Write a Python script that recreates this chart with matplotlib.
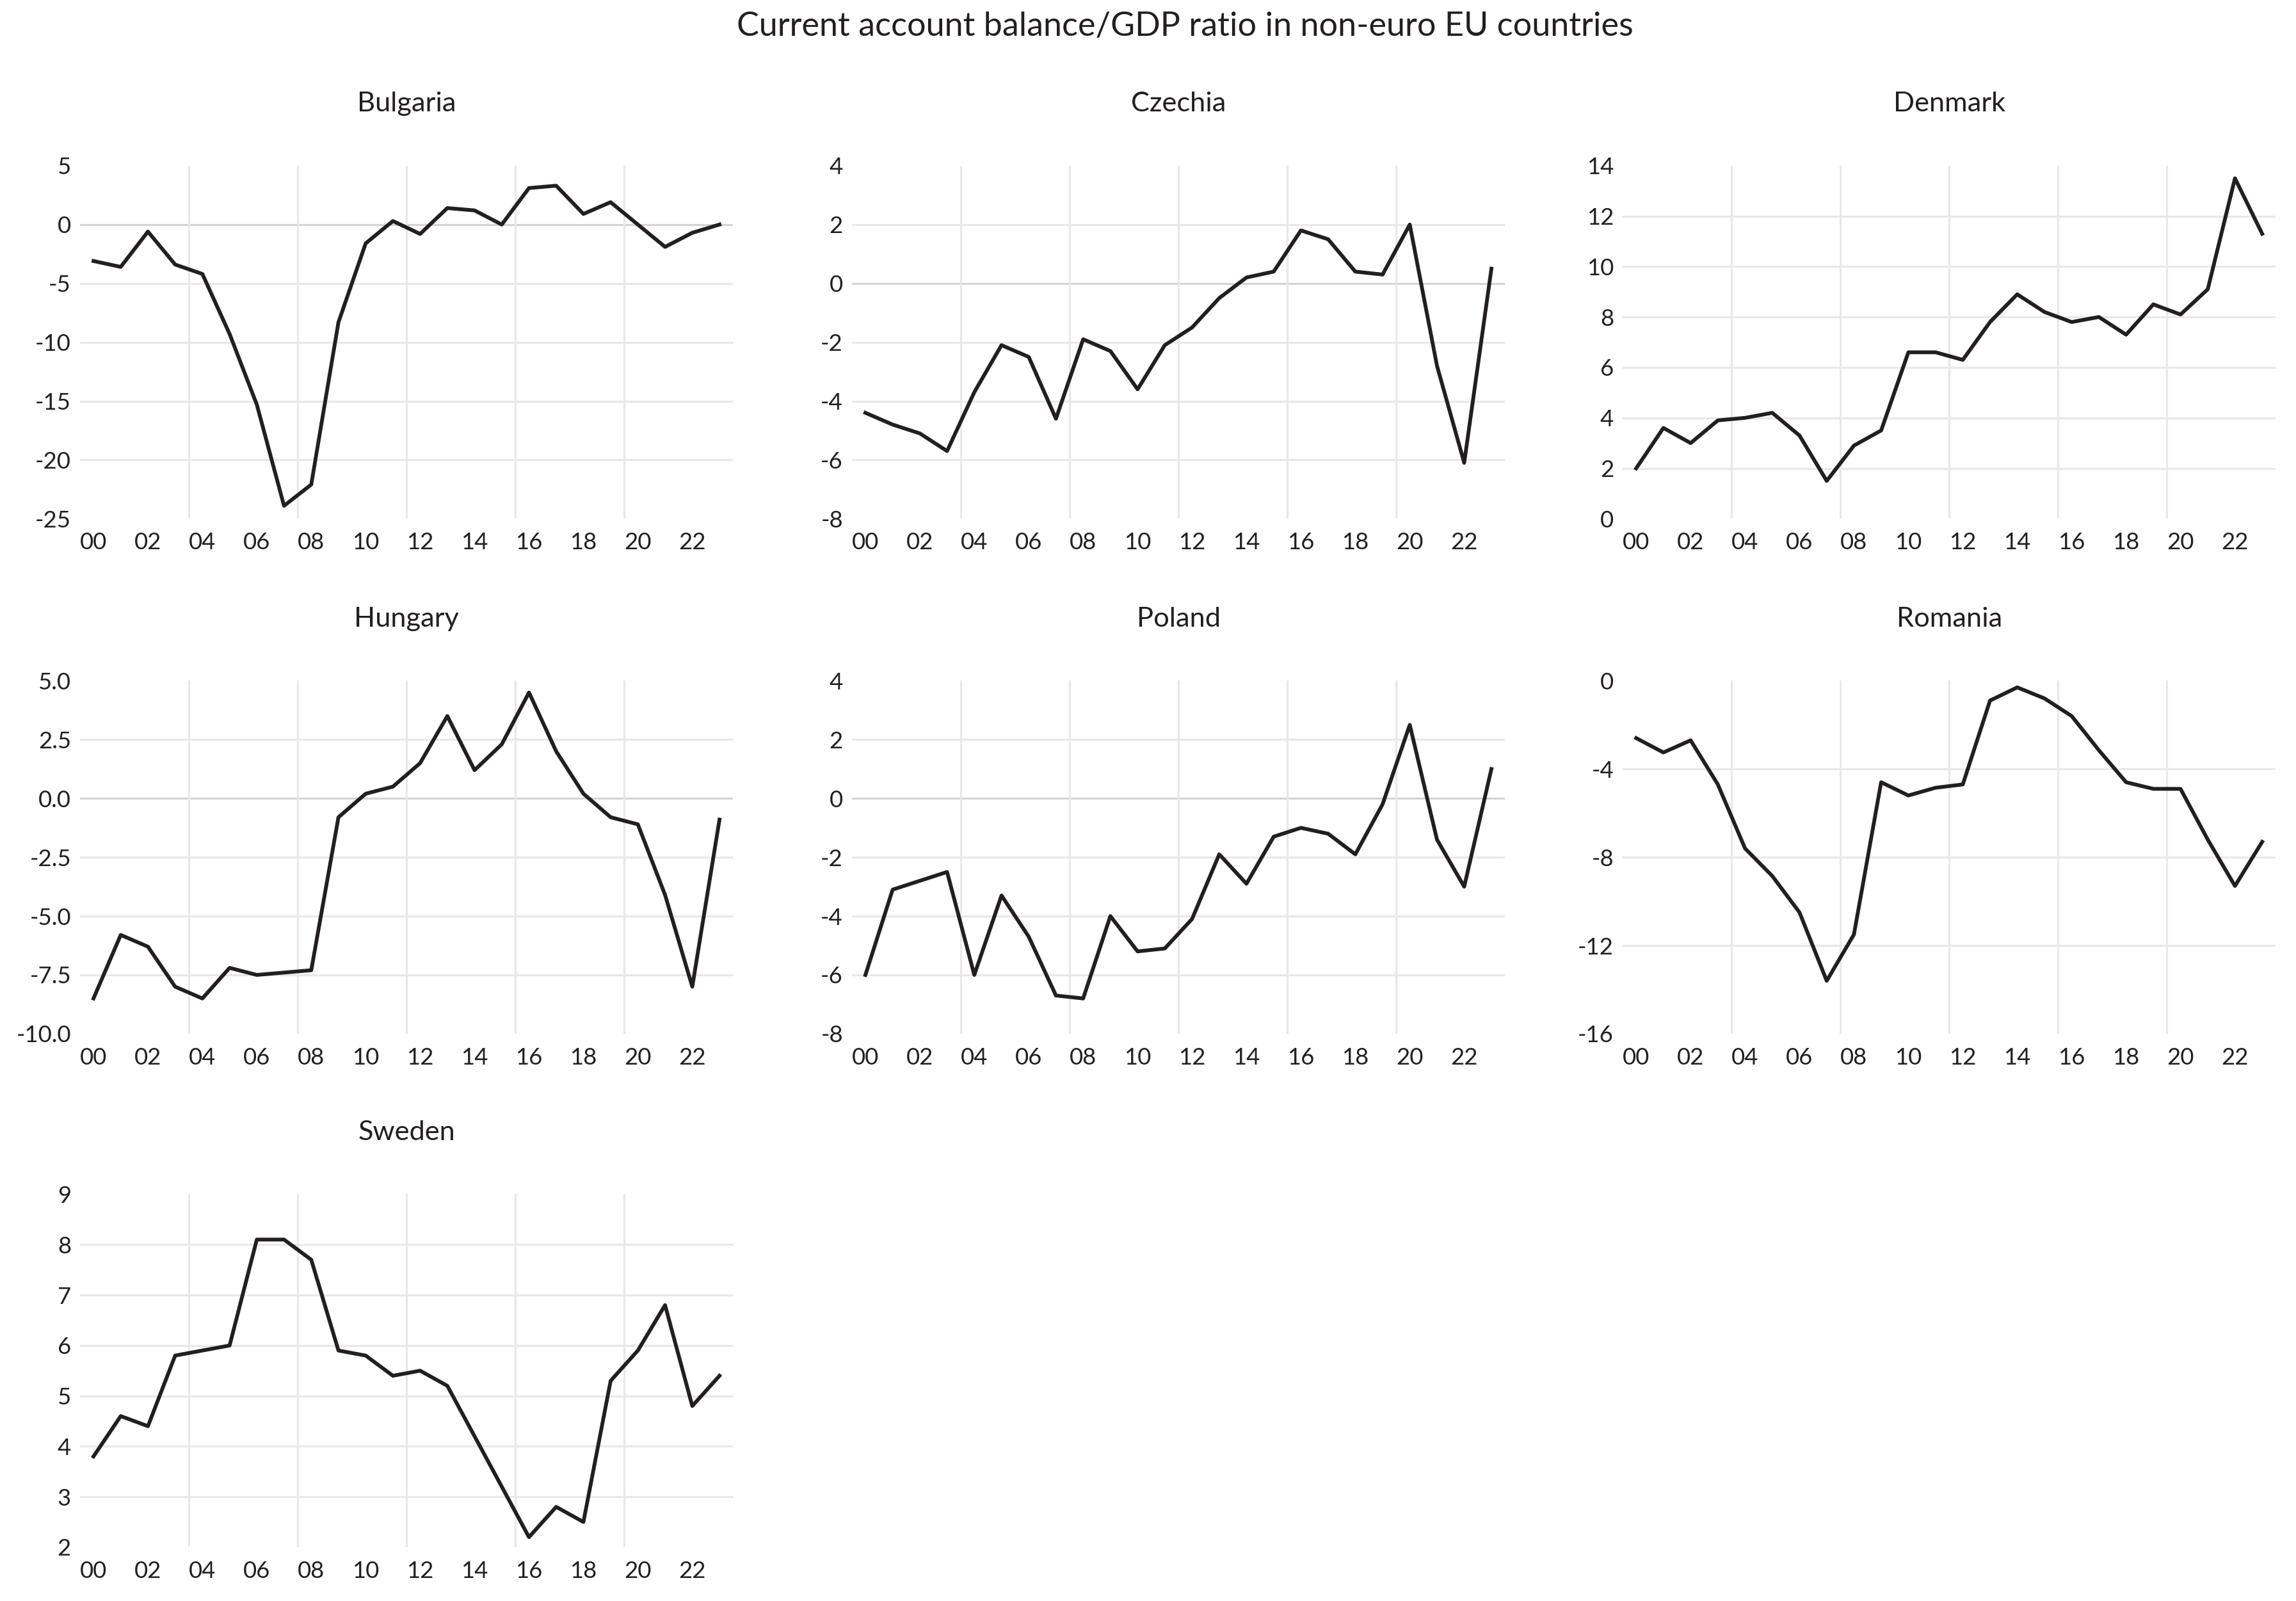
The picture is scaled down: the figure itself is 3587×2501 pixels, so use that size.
import matplotlib
matplotlib.use("Agg")
import matplotlib.pyplot as plt
import numpy as np

plt.rcParams['font.family'] = ['Lato', 'DejaVu Sans']

years = ["00", "01", "02", "03", "04", "05", "06", "07", "08", "09", "10", "11",
         "12", "13", "14", "15", "16", "17", "18", "19", "20", "21", "22", "23"]

bulgaria = [-3.1, -3.6, -0.6, -3.4, -4.2, -9.3, -15.3, -23.9, -22.1, -8.3, -1.6, 0.3,
            -0.8, 1.4, 1.2, 0.0, 3.1, 3.3, 0.9, 1.9, 0.0, -1.9, -0.7, 0.0]
czechia = [-4.4, -4.8, -5.1, -5.7, -3.7, -2.1, -2.5, -4.6, -1.9, -2.3, -3.6, -2.1,
           -1.5, -0.5, 0.2, 0.4, 1.8, 1.5, 0.4, 0.3, 2.0, -2.8, -6.1, 0.5]
denmark = [2.0, 3.6, 3.0, 3.9, 4.0, 4.2, 3.3, 1.5, 2.9, 3.5, 6.6, 6.6,
           6.3, 7.8, 8.9, 8.2, 7.8, 8.0, 7.3, 8.5, 8.1, 9.1, 13.5, 11.3]
hungary = [-8.5, -5.8, -6.3, -8.0, -8.5, -7.2, -7.5, -7.4, -7.3, -0.8, 0.2, 0.5,
           1.5, 3.5, 1.2, 2.3, 4.5, 2.0, 0.2, -0.8, -1.1, -4.1, -8.0, -0.9]
poland = [-6.0, -3.1, -2.8, -2.5, -6.0, -3.3, -4.7, -6.7, -6.8, -4.0, -5.2, -5.1,
          -4.1, -1.9, -2.9, -1.3, -1.0, -1.2, -1.9, -0.2, 2.5, -1.4, -3.0, 1.0]
romania = [-2.6, -3.25, -2.7, -4.7, -7.6, -8.85, -10.5, -13.6, -11.5, -4.6, -5.2, -4.85,
           -4.7, -0.9, -0.3, -0.8, -1.6, -3.15, -4.6, -4.9, -4.9, -7.2, -9.3, -7.3]
sweden = [3.8, 4.6, 4.4, 5.8, 5.9, 6.0, 8.1, 8.1, 7.7, 5.9, 5.8, 5.4,
          5.5, 5.2, 4.2, 3.2, 2.2, 2.8, 2.5, 5.3, 5.9, 6.8, 4.8, 5.4]

countries = ["Bulgaria", "Czechia", "Denmark", "Hungary", "Poland", "Romania", "Sweden"]
series = [bulgaria, czechia, denmark, hungary, poland, romania, sweden]
# y range and tick step per panel
y_ranges = [(-25, 5, 5), (-8, 4, 2), (0, 14, 2), (-10, 5, 2.5), (-8, 4, 2), (-16, 0, 4), (2, 9, 1)]
y_fmt = ["{:.0f}", "{:.0f}", "{:.0f}", "{:.1f}", "{:.0f}", "{:.0f}", "{:.0f}"]

fig = plt.figure(figsize=(3587 / 250, 2501 / 250), dpi=250)

lefts = [0.0348, 0.371, 0.7067]
width = 0.2845
bottoms = [0.676, 0.3543, 0.0336]
height = 0.2205

line_col = "#231f20"
grid_col = "#e8e8e8"

for i, (name, vals) in enumerate(zip(countries, series)):
    row, col = divmod(i, 3)
    ax = fig.add_axes([lefts[col], bottoms[row], width, height])
    x = np.arange(len(years))
    ymin, ymax, step = y_ranges[i]
    ticks = np.arange(ymin, ymax + step / 2, step)

    # gridlines (interior ticks only), vertical ones between categories
    for t in ticks[1:-1]:
        c = "#d4d4d4" if t == 0 else grid_col
        ax.axhline(t, color=c, lw=0.9, zorder=1)
    for b in [3.5, 7.5, 11.5, 15.5, 19.5]:
        ax.axvline(b, color=grid_col, lw=0.9, zorder=1)

    ax.plot(x, vals, color=line_col, lw=1.7, zorder=3)

    ax.set_xlim(-0.5, len(years) - 0.5)
    ax.set_ylim(ymin, ymax)
    ax.set_yticks(ticks)
    ax.set_yticklabels([y_fmt[i].format(t) for t in ticks])
    ax.set_xticks(x[::2])
    ax.set_xticklabels(years[::2])
    ax.tick_params(axis="both", length=0, labelsize=10.5, colors="#231f20")
    ax.tick_params(axis="y", pad=4)
    ax.tick_params(axis="x", pad=6)
    for s in ax.spines.values():
        s.set_visible(False)
    ax.text(0.5, 1 + 97 / 552, name, transform=ax.transAxes, ha="center", va="center",
            fontsize=12.5, color="#231f20")

fig.text(0.516, 0.9836, "Current account balance/GDP ratio in non-euro EU countries",
         ha="center", va="center", fontsize=15, color="#231f20")

fig.savefig("out.png", dpi=250, facecolor="white")
